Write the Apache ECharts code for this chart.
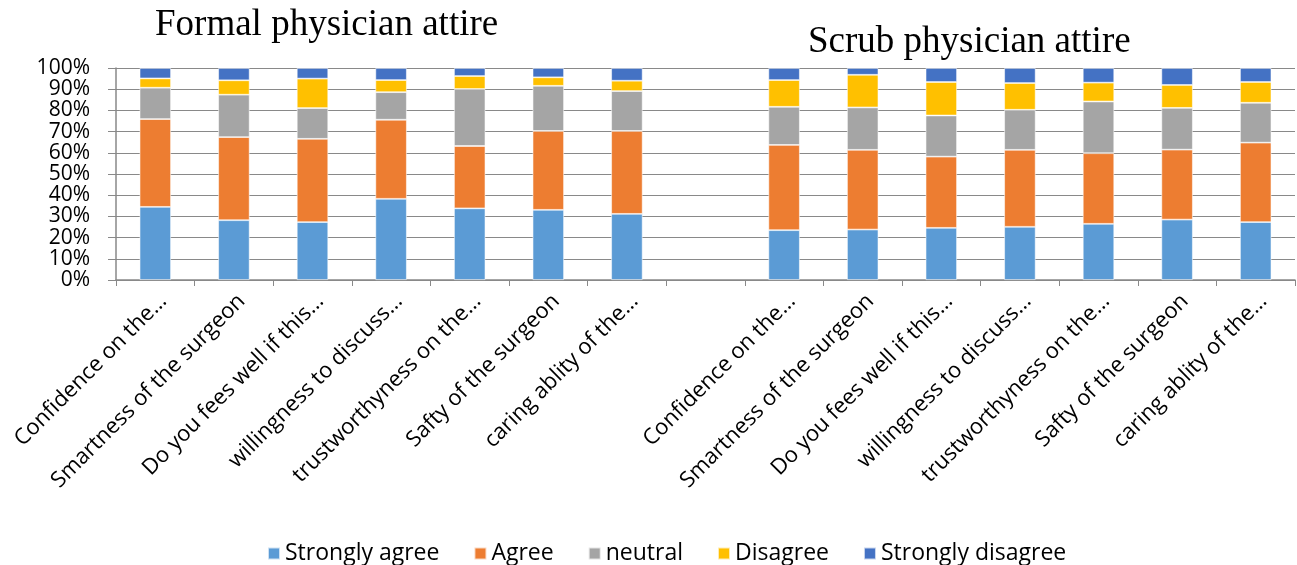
<!DOCTYPE html>
<html>
<head>
<meta charset="utf-8">
<title>Physician attire</title>
<script src="https://cdn.jsdelivr.net/npm/echarts@6/dist/echarts.min.js"></script>
<style>
  html, body { margin: 0; padding: 0; background: #fff; }
  #chart { width: 1297px; height: 565px; }
</style>
</head>
<body>
<div id="chart"></div>
<script>
// questions, same order for both attire groups
const questions = [
  'Confidence on the\u2026',
  'Smartness of the surgeon',
  'Do you fees well if this\u2026',
  'willingness to discuss\u2026',
  'trustworthyness on the\u2026',
  'Safty of the surgeon',
  'caring ablity of the\u2026'
]

const seriesNames = ['Strongly agree', 'Agree', 'neutral', 'Disagree', 'Strongly disagree']
const colors = ['#5b9bd5', '#ed7d31', '#a5a5a5', '#ffc000', '#4472c4']

// percentages, formal attire
const formalStronglyAgree = [34.5, 28.2, 27.3, 38.3, 33.8, 33.1, 31.2]
const formalAgree = [41.4, 39.2, 39.3, 37.3, 29.4, 37.2, 39.1]
const formalNeutral = [14.8, 20.0, 14.5, 13.0, 26.9, 21.3, 18.8]
const formalDisagree = [4.4, 6.8, 13.9, 5.7, 6.1, 4.0, 4.9]
const formalStronglyDisagree = [4.9, 5.8, 5.0, 5.7, 3.8, 4.4, 6.0]

// percentages, scrub attire
const scrubStronglyAgree = [23.5, 23.8, 24.6, 25.1, 26.5, 28.5, 27.3]
const scrubAgree = [40.2, 37.6, 33.6, 36.3, 33.3, 33.0, 37.5]
const scrubNeutral = [18.0, 20.0, 19.4, 18.9, 24.4, 19.7, 18.8]
const scrubDisagree = [12.6, 15.4, 15.8, 12.6, 8.9, 10.8, 9.8]
const scrubStronglyDisagree = [5.7, 3.2, 6.6, 7.1, 6.9, 8.0, 6.6]

const formalData = [formalStronglyAgree, formalAgree, formalNeutral, formalDisagree, formalStronglyDisagree]
const scrubData = [scrubStronglyAgree, scrubAgree, scrubNeutral, scrubDisagree, scrubStronglyDisagree]

// one empty slot between the two groups
const categories = [...questions, '', ...questions]

const chart = echarts.init(document.getElementById('chart'))

const gridColor = '#898989'
const sansFont = '"Open Sans", "Noto Sans", sans-serif'
const titleStyle = { fontFamily: '"Liberation Serif", serif', fontSize: 37, fontWeight: 'normal', color: '#000' }

const option = {
  animation: false,
  title: [
    { text: 'Formal physician attire', left: 150, top: 2, textStyle: titleStyle },
    { text: 'Scrub physician attire', left: 803, top: 19, textStyle: titleStyle }
  ],
  legend: {
    data: seriesNames,
    left: 262,
    top: 537,
    itemWidth: 12,
    itemHeight: 12,
    itemGap: 34,
    icon: 'rect',
    textStyle: { fontFamily: sansFont, fontSize: 23, color: '#000' }
  },
  grid: { left: 116, right: 2, top: 68, bottom: 285 },
  xAxis: {
    type: 'category',
    data: categories,
    axisLine: { lineStyle: { color: gridColor, width: 1.5 } },
    axisTick: { show: true, length: 6, lineStyle: { color: gridColor } },
    axisLabel: {
      rotate: 45,
      interval: 0,
      margin: 10,
      verticalAlign: 'top',
      fontFamily: sansFont,
      fontSize: 22,
      color: '#000'
    }
  },
  yAxis: {
    type: 'value',
    min: 0,
    max: 100,
    interval: 10,
    axisLine: { show: true, lineStyle: { color: gridColor, width: 1.5 } },
    axisTick: { show: true, length: 8, lineStyle: { color: gridColor } },
    splitLine: { lineStyle: { color: gridColor, width: 1.2 } },
    axisLabel: {
      formatter: '{value}%',
      margin: 26,
      showMinLabel: true,
      showMaxLabel: true,
      hideOverlap: false,
      lineHeight: 19,
      fontFamily: sansFont,
      fontSize: 21,
      color: '#000'
    }
  },
  series: seriesNames.map((name, i) => ({
    name: name,
    type: 'bar',
    stack: 'total',
    barWidth: '40%',
    itemStyle: { color: colors[i], borderColor: 'rgba(255,255,255,0.7)', borderWidth: 0.8 },
    data: [...formalData[i], '-', ...scrubData[i]]
  }))
}

chart.setOption(option)
</script>
</body>
</html>
